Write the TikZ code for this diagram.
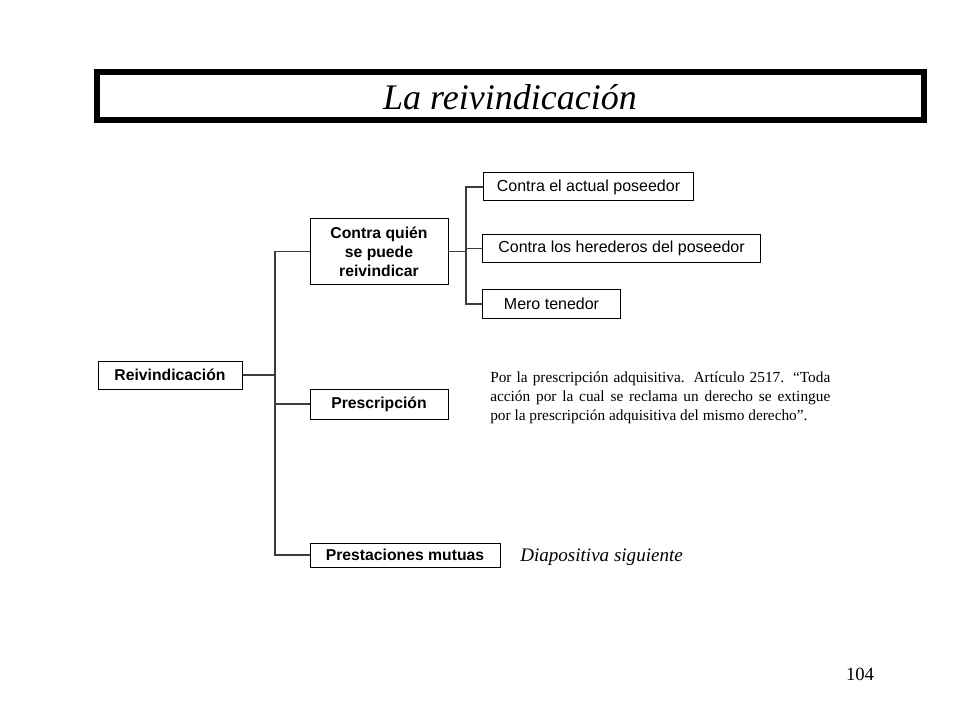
\documentclass[tikz,border=0pt]{standalone}
\usepackage{fontspec}
\setmainfont{Liberation Serif}
\setsansfont{Liberation Sans}
\usepackage{tikz}
\usetikzlibrary{positioning, calc}
\definecolor{LineGray}{RGB}{60,60,60}

\begin{document}
\begin{tikzpicture}[x=0.75pt,y=-0.75pt,
        box/.style={draw=black,line width=0.75pt,inner sep=0pt,
                    font=\sffamily\fontsize{12}{14}\selectfont,align=center},
        bbox/.style={box,font=\sffamily\bfseries\fontsize{11.8}{14.25}\selectfont},
        link/.style={draw=LineGray,line width=0.8pt}
      ]
        \useasboundingbox (0,0) rectangle (960,720);
        % title
        \node[draw=black,line width=4.5pt,minimum width=827pt*0.75,minimum height=48pt*0.75,
              inner sep=0pt] (title) at (510,96) {};
        \node[font=\itshape\fontsize{27}{30}\selectfont] at (510,97) {La reivindicación};
        % tree
        \node[bbox,minimum width=108pt,minimum height=21pt] (reiv) at (170,375) {Reivindicación};
        \node[bbox,minimum width=103.5pt,minimum height=50pt] (contra) at (379,251.5)
          {Contra quién\\se puede\\reivindicar};
        \node[bbox,minimum width=103.5pt,minimum height=22.5pt] (presc) at (379,404) {Prescripción};
        \node[bbox,minimum width=142.5pt,minimum height=18pt] (presta) at (405,555) {Prestaciones mutuas};
        \node[box,minimum width=158pt,minimum height=21pt] (actual) at (588.5,187) {Contra el actual poseedor};
        \node[box,minimum width=208pt,minimum height=21.5pt] (hered) at (621.5,248.5) {Contra los herederos del poseedor};
        \node[box,minimum width=103pt,minimum height=21pt] (mero) at (551.5,304) {Mero tenedor};
        \coordinate (trunk) at (275,375);
        \coordinate (fork) at (466,251.5);
        \draw[link] (reiv.east) -- (trunk);
        \draw[link] (trunk) |- (contra.west);
        \draw[link] (trunk) |- (presc.west);
        \draw[link] (trunk) |- (presta.west);
        \draw[link] (contra.east) -- (fork);
        \draw[link] (fork) |- (actual.west);
        \draw[link] (fork) |- (hered.west);
        \draw[link] (fork) |- (mero.west);
        % notes
        \node[anchor=north west,inner sep=0pt,text width=255pt,align=justify,
              font=\fontsize{11.5}{14.25}\selectfont] (art) at (490,372)
          {Por la prescripción adquisitiva. Artículo 2517. “Toda\linebreak
           acción por la cual se reclama un derecho se extingue\linebreak
           por la prescripción adquisitiva del mismo derecho”.};
        \node[anchor=west,inner sep=0pt,font=\itshape\fontsize{14.3}{16}\selectfont] (next) at (520,557)
          {Diapositiva siguiente};
        \node[font=\fontsize{14}{16}\selectfont] (page) at (860,674) {104};
      \end{tikzpicture}
\end{document}
